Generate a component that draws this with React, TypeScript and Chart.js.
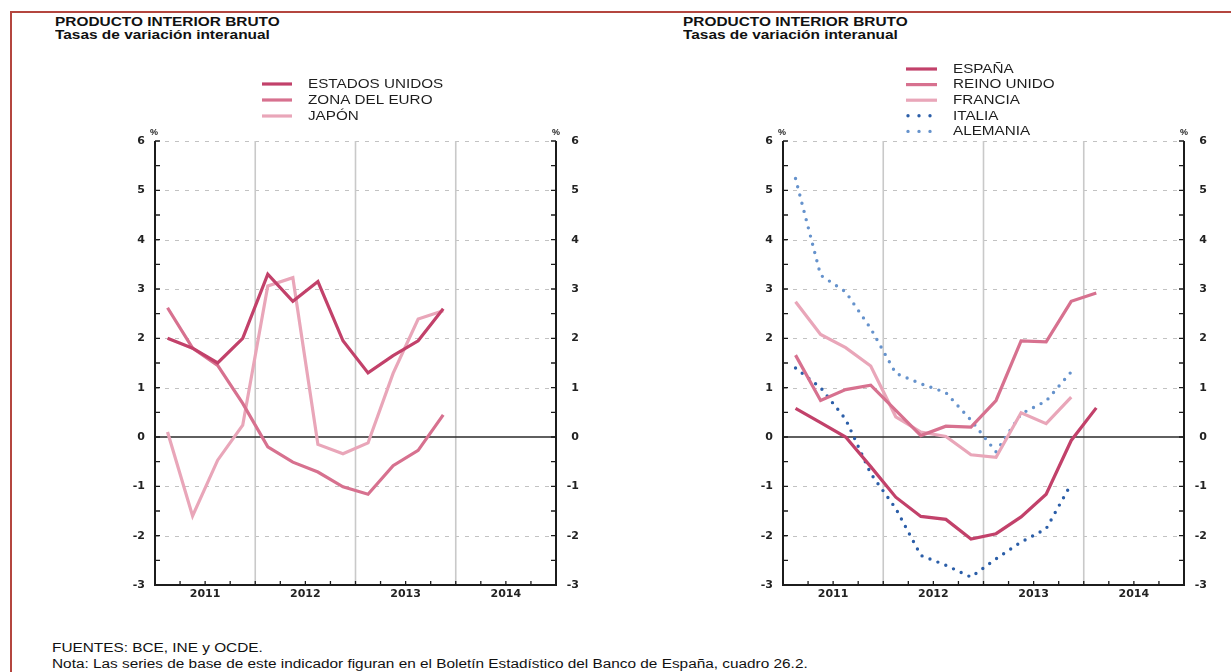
import React, { useEffect, useRef } from 'react';
import { Chart, registerables } from 'chart.js';

Chart.register(...registerables);

// ---------- DATA ----------
const quarters = [
  'I-2011', 'II-2011', 'III-2011', 'IV-2011',
  'I-2012', 'II-2012', 'III-2012', 'IV-2012',
  'I-2013', 'II-2013', 'III-2013', 'IV-2013',
  'I-2014', 'II-2014', 'III-2014', 'IV-2014',
];
const yearLabels = ['2011', '2012', '2013', '2014'];
const yTicks = [-3, -2, -1, 0, 1, 2, 3, 4, 5, 6];

const estadosUnidos = [2.0, 1.8, 1.5, 2.0, 3.3, 2.75, 3.15, 1.95, 1.3, 1.65, 1.95, 2.6];
const zonaDelEuro = [2.62, 1.8, 1.45, 0.68, -0.2, -0.51, -0.71, -1.01, -1.16, -0.58, -0.27, 0.45];
const japon = [0.1, -1.6, -0.47, 0.24, 3.06, 3.23, -0.15, -0.34, -0.12, 1.29, 2.39, 2.56];

const espana = [0.58, 0.29, 0.0, -0.6, -1.22, -1.61, -1.67, -2.07, -1.96, -1.62, -1.16, -0.07, 0.59];
const reinoUnido = [1.66, 0.74, 0.96, 1.05, 0.54, 0.03, 0.22, 0.2, 0.74, 1.95, 1.93, 2.75, 2.92];
const francia = [2.74, 2.08, 1.81, 1.44, 0.41, 0.1, 0.01, -0.36, -0.41, 0.49, 0.27, 0.81];
const italia = [1.4, 1.0, 0.36, -0.74, -1.45, -2.4, -2.6, -2.84, -2.47, -2.13, -1.86, -0.95];
const alemania = [5.24, 3.28, 2.94, 2.2, 1.29, 1.08, 0.9, 0.34, -0.3, 0.47, 0.73, 1.32];

const leftLabels = ['ESTADOS UNIDOS', 'ZONA DEL EURO', 'JAPÓN'];
const rightLabels = ['ESPAÑA', 'REINO UNIDO', 'FRANCIA', 'ITALIA', 'ALEMANIA'];

// ---------- STYLE ----------
const C_DARK = '#c2416a';
const C_MID = '#d7718f';
const C_LIGHT = '#e9a6b9';
const C_BLUE_DARK = '#2b5ea8';
const C_BLUE_LIGHT = '#6592cc';
const TEXT_SCALE = 1.27;

type LegendCfg = { x0: number; x1: number; y0: number; step: number; tx: number };

function makePlugin(legend: LegendCfg) {
  return {
    id: 'frameDeco',
    beforeDatasetsDraw(chart: any) {
      const { ctx, chartArea: a, scales } = chart;
      const x = scales.x;
      const y = scales.y;
      ctx.save();
      // dashed horizontal grid
      ctx.strokeStyle = '#c2c2c2';
      ctx.lineWidth = 1;
      ctx.setLineDash([4, 6]);
      yTicks.forEach((v) => {
        if (v === 0 || v === yTicks[0]) return;
        const py = Math.round(y.getPixelForValue(v)) + 0.5;
        ctx.beginPath();
        ctx.moveTo(a.left, py);
        ctx.lineTo(a.right, py);
        ctx.stroke();
      });
      // year separators
      ctx.setLineDash([]);
      ctx.strokeStyle = '#c9c9c9';
      ctx.lineWidth = 1.6;
      [4, 8, 12].forEach((k) => {
        const px = (x.getPixelForValue(k - 1) + x.getPixelForValue(k)) / 2;
        ctx.beginPath();
        ctx.moveTo(px, a.top);
        ctx.lineTo(px, a.bottom);
        ctx.stroke();
      });
      // zero line
      ctx.strokeStyle = '#2a2a2a';
      ctx.lineWidth = 1.3;
      const p0 = y.getPixelForValue(0);
      ctx.beginPath();
      ctx.moveTo(a.left, p0);
      ctx.lineTo(a.right, p0);
      ctx.stroke();
      ctx.restore();
    },
    afterDatasetsDraw(chart: any) {
      const { ctx, chartArea: a, scales } = chart;
      const x = scales.x;
      const y = scales.y;
      ctx.save();
      ctx.setLineDash([]);
      ctx.strokeStyle = '#1c1c1c';
      ctx.lineWidth = 2;
      ctx.beginPath();
      ctx.moveTo(a.left, a.top);
      ctx.lineTo(a.left, a.bottom);
      ctx.lineTo(a.right, a.bottom);
      ctx.lineTo(a.right, a.top);
      ctx.stroke();
      // minor y ticks every 0.5
      ctx.lineWidth = 1.3;
      for (let i = 0; i <= 18; i++) {
        const v = yTicks[0] + i * 0.5;
        const py = y.getPixelForValue(v);
        ctx.beginPath();
        ctx.moveTo(a.left, py);
        ctx.lineTo(a.left + 5, py);
        ctx.moveTo(a.right, py);
        ctx.lineTo(a.right - 5, py);
        ctx.stroke();
      }
      // x ticks at quarter boundaries
      for (let k = 1; k < quarters.length; k++) {
        const px = (x.getPixelForValue(k - 1) + x.getPixelForValue(k)) / 2;
        ctx.beginPath();
        ctx.moveTo(px, a.bottom);
        ctx.lineTo(px, a.bottom - 4);
        ctx.stroke();
      }
      // % signs
      ctx.fillStyle = '#222';
      ctx.font = 'bold 9px "Liberation Sans", Arial, sans-serif';
      ctx.textAlign = 'center';
      ctx.textBaseline = 'middle';
      ctx.fillText('%', a.left - 1, a.top - 8);
      ctx.fillText('%', a.right, a.top - 8);
      // legend
      ctx.textAlign = 'left';
      ctx.font = '12px "Liberation Sans", Arial, sans-serif';
      chart.data.datasets.forEach((ds: any, i: number) => {
        const ly = legend.y0 + i * legend.step;
        ctx.strokeStyle = ds.borderColor;
        ctx.lineWidth = ds.borderWidth;
        ctx.lineCap = ds.borderCapStyle || 'butt';
        if (ds.borderDash && ds.borderDash.length) {
          ctx.setLineDash([0, 11]);
          ctx.beginPath();
          ctx.moveTo(legend.x0 + 2, ly);
          ctx.lineTo(legend.x1, ly);
          ctx.stroke();
        } else {
          ctx.setLineDash([]);
          ctx.beginPath();
          ctx.moveTo(legend.x0, ly);
          ctx.lineTo(legend.x1, ly);
          ctx.stroke();
        }
        ctx.fillStyle = '#1e1e1e';
        ctx.save();
        ctx.translate(legend.tx, ly + 0.5);
        ctx.scale(TEXT_SCALE, 1);
        ctx.fillText(ds.label, 0, 0);
        ctx.restore();
      });
      ctx.restore();
    },
  };
}

function makeConfig(
  datasets: any[],
  pad: { left: number; right: number },
  legend: LegendCfg
): any {
  const tickFont = { family: '"DejaVu Sans", sans-serif', size: 11, weight: 'bold' as const };
  return {
    type: 'line',
    data: { labels: quarters, datasets },
    options: {
      responsive: false,
      animation: false,
      events: [],
      layout: { padding: { left: pad.left, right: pad.right, top: 141, bottom: 0 } },
      plugins: { legend: { display: false }, tooltip: { enabled: false } },
      elements: { point: { radius: 0 }, line: { tension: 0 } },
      scales: {
        x: {
          type: 'category',
          offset: true,
          grid: { display: false, drawTicks: false },
          border: { display: false },
          afterFit: (ax: any) => { ax.height = 35; },
          ticks: {
            autoSkip: false,
            maxRotation: 0,
            minRotation: 0,
            padding: 3,
            color: '#222',
            font: tickFont,
            labelOffset: 12.5,
            callback: (_v: any, i: number) => (i % 4 === 1 ? yearLabels[Math.floor(i / 4)] : ''),
          },
        },
        y: {
          position: 'left',
          min: yTicks[0],
          max: yTicks[yTicks.length - 1],
          grid: { display: false, drawTicks: false },
          border: { display: false },
          afterFit: (ax: any) => { ax.width = 55; },
          afterBuildTicks: (ax: any) => { ax.ticks = yTicks.map((v) => ({ value: v })); },
          ticks: { padding: 10, color: '#222', font: tickFont },
        },
        y2: {
          position: 'right',
          min: yTicks[0],
          max: yTicks[yTicks.length - 1],
          grid: { display: false, drawTicks: false },
          border: { display: false },
          afterFit: (ax: any) => { ax.width = 23; },
          afterBuildTicks: (ax: any) => { ax.ticks = yTicks.map((v) => ({ value: v })); },
          ticks: { padding: 10, color: '#222', font: tickFont, crossAlign: 'far' },
        },
      },
    },
    plugins: [makePlugin(legend)],
  };
}

function solid(label: string, data: number[], color: string, order: number) {
  return {
    label,
    data,
    borderColor: color,
    backgroundColor: color,
    borderWidth: 3.2,
    borderJoinStyle: 'miter',
    fill: false,
    order,
    yAxisID: 'y',
  };
}

function dotted(label: string, data: number[], color: string, order: number) {
  return {
    label,
    data,
    borderColor: color,
    backgroundColor: color,
    borderWidth: 3.4,
    borderDash: [0, 8.5],
    borderCapStyle: 'round',
    fill: false,
    order,
    yAxisID: 'y',
  };
}

function ChartCanvas({ config, width, height }: { config: () => any; width: number; height: number }) {
  const ref = useRef<HTMLCanvasElement | null>(null);
  useEffect(() => {
    if (!ref.current) return;
    const chart = new Chart(ref.current, config());
    return () => chart.destroy();
  }, []);
  return <canvas ref={ref} width={width} height={height} style={{ width, height, display: 'block' }} />;
}

const titleStyle: React.CSSProperties = {
  position: 'absolute',
  fontFamily: '"Liberation Sans", Arial, sans-serif',
  fontWeight: 'bold',
  fontSize: 12,
  lineHeight: '12px',
  color: '#111',
  whiteSpace: 'nowrap',
  transform: 'scaleX(1.285)',
  transformOrigin: 'left top',
};

const noteStyle: React.CSSProperties = {
  position: 'absolute',
  fontFamily: '"Liberation Sans", Arial, sans-serif',
  fontSize: 12,
  lineHeight: '12px',
  color: '#111',
  whiteSpace: 'nowrap',
  transform: 'scaleX(1.28)',
  transformOrigin: 'left top',
};

export default function App() {
  const leftConfig = () =>
    makeConfig(
      [
        solid(leftLabels[0], estadosUnidos, C_DARK, 1),
        solid(leftLabels[1], zonaDelEuro, C_MID, 2),
        solid(leftLabels[2], japon, C_LIGHT, 3),
      ],
      { left: 100, right: 36 },
      { x0: 262, x1: 292, y0: 84, step: 16, tx: 308 }
    );
  const rightConfig = () =>
    makeConfig(
      [
        solid(rightLabels[0], espana, C_DARK, 1),
        solid(rightLabels[1], reinoUnido, C_MID, 2),
        solid(rightLabels[2], francia, C_LIGHT, 3),
        dotted(rightLabels[3], italia, C_BLUE_DARK, 4),
        dotted(rightLabels[4], alemania, C_BLUE_LIGHT, 5),
      ],
      { left: 113, right: 24 },
      { x0: 906 - 615, x1: 937 - 615, y0: 69, step: 15.6, tx: 953 - 615 }
    );

  return (
    <div style={{ position: 'absolute', left: 0, top: 0, width: 1231, height: 672, background: '#fff', overflow: 'hidden' }}>
      {/* frame */}
      <div style={{ position: 'absolute', left: 10, top: 11, width: 1221, height: 2, background: '#b4463f' }} />
      <div style={{ position: 'absolute', left: 10, top: 11, width: 2, height: 661, background: '#b4463f' }} />

      <div style={{ ...titleStyle, left: 55, top: 16 }}>PRODUCTO INTERIOR BRUTO</div>
      <div style={{ ...titleStyle, left: 55, top: 29 }}>Tasas de variación interanual</div>
      <div style={{ ...titleStyle, left: 683, top: 16 }}>PRODUCTO INTERIOR BRUTO</div>
      <div style={{ ...titleStyle, left: 683, top: 29 }}>Tasas de variación interanual</div>

      <div style={{ position: 'absolute', left: 0, top: 0 }}>
        <ChartCanvas config={leftConfig} width={615} height={620} />
      </div>
      <div style={{ position: 'absolute', left: 615, top: 0 }}>
        <ChartCanvas config={rightConfig} width={616} height={620} />
      </div>

      <div style={{ ...noteStyle, left: 52, top: 642 }}>FUENTES: BCE, INE y OCDE.</div>
      <div style={{ ...noteStyle, left: 52, top: 658 }}>
        Nota: Las series de base de este indicador figuran en el Boletín Estadístico del Banco de España, cuadro 26.2.
      </div>
    </div>
  );
}
